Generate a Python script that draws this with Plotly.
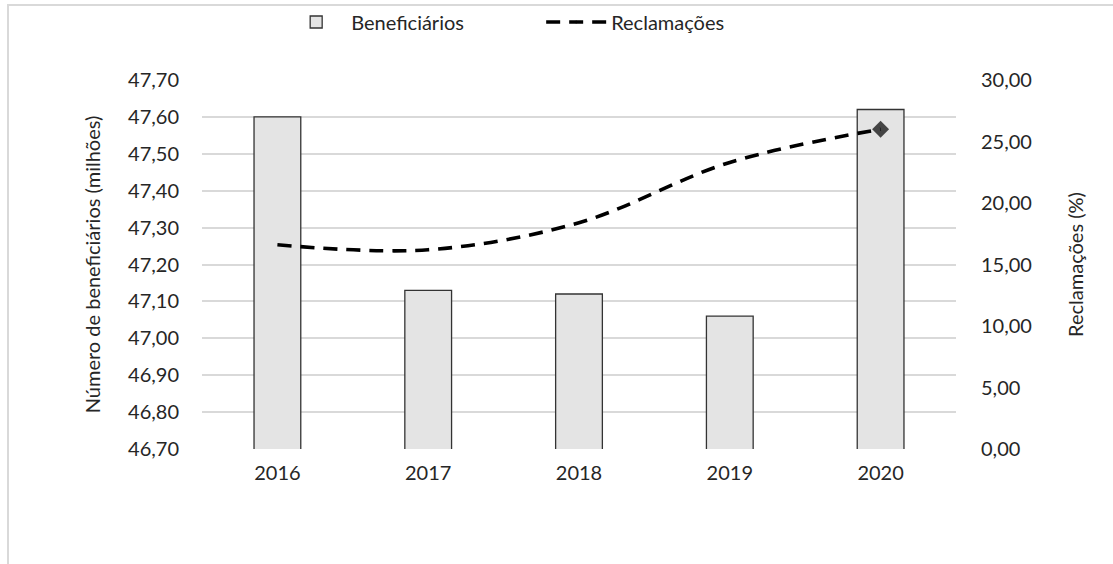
import plotly.graph_objects as go

anos = ["2016", "2017", "2018", "2019", "2020"]
beneficiarios = [47.60, 47.13, 47.12, 47.06, 47.62]
reclamacoes = [16.6, 16.2, 18.4, 23.3, 26.0]
marcador = [0, 0, 0, 0, 13]

FONT = "Lato"
TXT = "#262626"
FS = 20

fig = go.Figure()
fig.add_trace(go.Bar(
    x=anos, y=beneficiarios, name="Beneficiários",
    marker=dict(color="#e4e4e4", line=dict(color="#333333", width=1.3)),
    width=0.31, yaxis="y",
))
fig.add_trace(go.Scatter(
    x=anos, y=reclamacoes, name="Reclamações", yaxis="y2",
    mode="lines+markers",
    line=dict(color="black", width=3.6, dash="14px,9px", shape="spline", smoothing=1.0),
    marker=dict(symbol="diamond", size=marcador, color="black", line=dict(width=0)),
))

fig.update_layout(
    width=1113, height=564,
    margin=dict(l=202, r=157, t=80, b=115, autoexpand=False),
    paper_bgcolor="white", plot_bgcolor="white",
    separators=",.",
    font=dict(family=FONT, size=FS, color=TXT),
    showlegend=True,
    legend=dict(orientation="h", x=0.105, y=1 - 22 / 564, yref="container",
                xanchor="left", yanchor="middle", entrywidth=185,
                font=dict(family=FONT, size=FS, color=TXT), itemwidth=60,
                bgcolor="rgba(0,0,0,0)"),
    xaxis=dict(showgrid=False, showline=False, ticks="", tickfont=dict(size=FS, color=TXT),
               ticklabelstandoff=10),
    yaxis=dict(range=[46.70, 47.70], dtick=0.1, tickformat=".2f",
               showgrid=True, gridcolor="#d9d9d9", gridwidth=2, zeroline=False,
               showline=False, ticks="", ticklabelstandoff=22,
               title=dict(text="Número de beneficiários (milhões)", font=dict(size=FS, color=TXT), standoff=22)),
    yaxis2=dict(range=[0, 30], dtick=5, tickformat=".2f", overlaying="y", side="right",
                showgrid=False, zeroline=False, showline=False, ticks="", ticklabelstandoff=24,
                title=dict(text="Reclamações (%)", font=dict(size=FS, color=TXT), standoff=38)),
    bargap=0.69,
)

fig.add_shape(type="rect", xref="paper", yref="paper",
              x0=(8 - 202) / 754, x1=2, y0=-1, y1=(449 - 5) / 369,
              line=dict(color="#d9d9d9", width=2), fillcolor="rgba(0,0,0,0)", layer="below")

fig.write_html("out.html")
